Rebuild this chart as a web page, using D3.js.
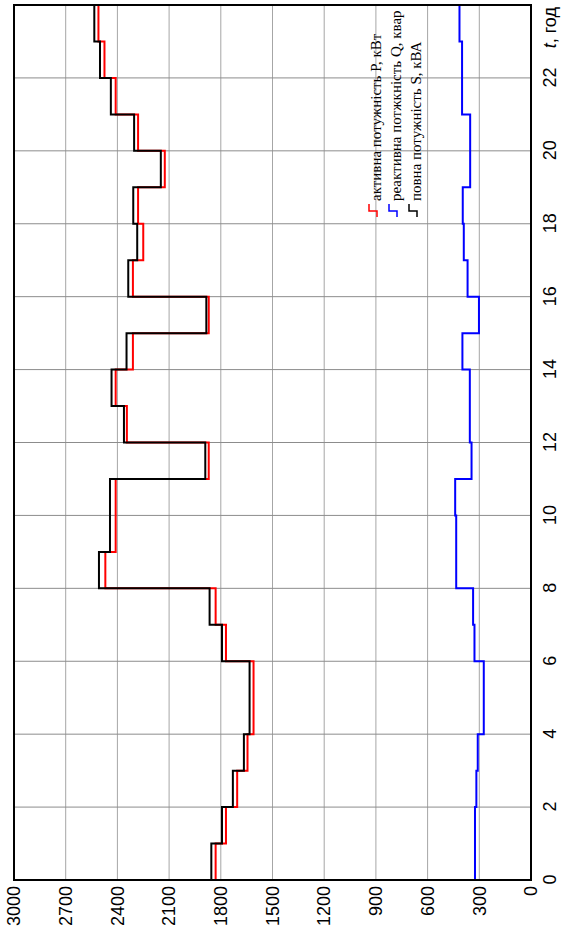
<!DOCTYPE html>
<html><head><meta charset="utf-8">
<script src="https://cdn.jsdelivr.net/npm/d3@7"></script>
<style>body{margin:0;background:#fff}svg{display:block}</style>
</head><body><svg id="c" width="572" height="928"></svg>
<script>
// ---- data (hourly steps, hour 0..23) ----
const hours = d3.range(0, 24);
const activeP   = [1830,1770,1705,1645,1610,1610,1770,1830,2470,2410,2410,1870,2345,2410,2310,1870,2310,2250,2280,2125,2280,2410,2475,2510];
const reactiveQ = [325,325,317,309,274,274,328,336,434,434,440,345,355,355,398,302,368,390,396,353,353,400,400,415];
const apparentS = [1855,1793,1730,1666,1633,1633,1793,1865,2507,2443,2443,1890,2362,2434,2347,1884,2337,2285,2308,2148,2303,2438,2501,2534];
const valueTicks = [0,300,600,900,1200,1500,1800,2100,2400,2700,3000];
const timeTicks = [0,2,4,6,8,10,12,14,16,18,20,22];
const gridValues = [300,600,900,1200,1500,1800,2100,2400,2700];
const gridTimes = [2,4,6,8,10,12,14,16,18,20,22];
const legendLabels = ["активна потужність P, кВт","реактивна потжкність Q, квар","повна потужність S, кВА"];
const seriesColors = ["#ff0000","#0000ff","#000000"];

// ---- layout (chart drawn unrotated, then rotated -90deg) ----
const plotLeft = 14, plotRight = 531, plotTop = 5, plotBottom = 880;
const W = plotBottom - plotTop;   // time axis length
const H = plotRight - plotLeft;   // value axis length

const svg = d3.select("#c");
const g = svg.append("g").attr("transform", `translate(${plotLeft},${plotBottom}) rotate(-90)`);

const x = d3.scaleLinear().domain([0, 24]).range([0, W]);
const y = d3.scaleLinear().domain([0, 3000]).range([H, 0]);

// grid
g.append("g").selectAll("line").data(gridValues).join("line")
  .attr("x1", 0).attr("x2", W).attr("y1", d => y(d)).attr("y2", d => y(d))
  .attr("stroke", "#a6a6a6").attr("stroke-width", 1);
g.append("g").selectAll("line").data(gridTimes).join("line")
  .attr("x1", d => x(d)).attr("x2", d => x(d)).attr("y1", 0).attr("y2", H)
  .attr("stroke", "#8c8c8c").attr("stroke-width", 1);

// series
const series = [activeP, reactiveQ, apparentS];
const line = d3.line().curve(d3.curveStepAfter).x(d => x(d[0])).y(d => y(d[1]));
series.forEach((vals, i) => {
  const pts = hours.map(h => [h, vals[h]]);
  pts.push([24, vals[vals.length - 1]]);
  g.append("path").datum(pts).attr("d", line)
    .attr("fill", "none").attr("stroke", seriesColors[i]).attr("stroke-width", 2);
});

// frame
g.append("rect").attr("x", 0).attr("y", 0).attr("width", W).attr("height", H)
  .attr("fill", "none").attr("stroke", "#000").attr("stroke-width", 2);

// axes
const fontFam = "'Liberation Sans', Arial, sans-serif";
const ya = g.append("g").call(d3.axisLeft(y).tickValues(valueTicks).tickFormat(d3.format("d")).tickSize(0).tickPadding(6));
ya.select(".domain").remove();
ya.selectAll("text").attr("font-family", fontFam).attr("font-size", 18).attr("fill", "#000");

const xa = g.append("g").attr("transform", `translate(0,${H})`)
  .call(d3.axisBottom(x).tickValues(timeTicks).tickFormat(d3.format("d")).tickSize(0).tickPadding(12));
xa.select(".domain").remove();
xa.selectAll("text").attr("font-family", fontFam).attr("font-size", 18).attr("fill", "#000");

const tl = g.append("text").attr("x", x(24) - 2).attr("y", H + 12).attr("dy", "0.71em")
  .attr("text-anchor", "end").attr("font-family", fontFam).attr("font-size", 18);
tl.append("tspan").attr("font-style", "italic").text("t");
tl.append("tspan").text(", год");

// legend
const lg = g.append("g");
legendLabels.forEach((lab, i) => {
  const w0 = 355 + i * 20;
  lg.append("path")
    .attr("d", `M663,${w0 + 8} H669 V${w0} H676`)
    .attr("fill", "none").attr("stroke", seriesColors[i]).attr("stroke-width", 1.5);
  lg.append("text").attr("x", 679).attr("y", w0 + 12)
    .attr("font-family", "'Liberation Serif', 'Times New Roman', serif").attr("font-size", 15)
    .attr("fill", "#000").text(lab);
});
</script>
</body></html>
